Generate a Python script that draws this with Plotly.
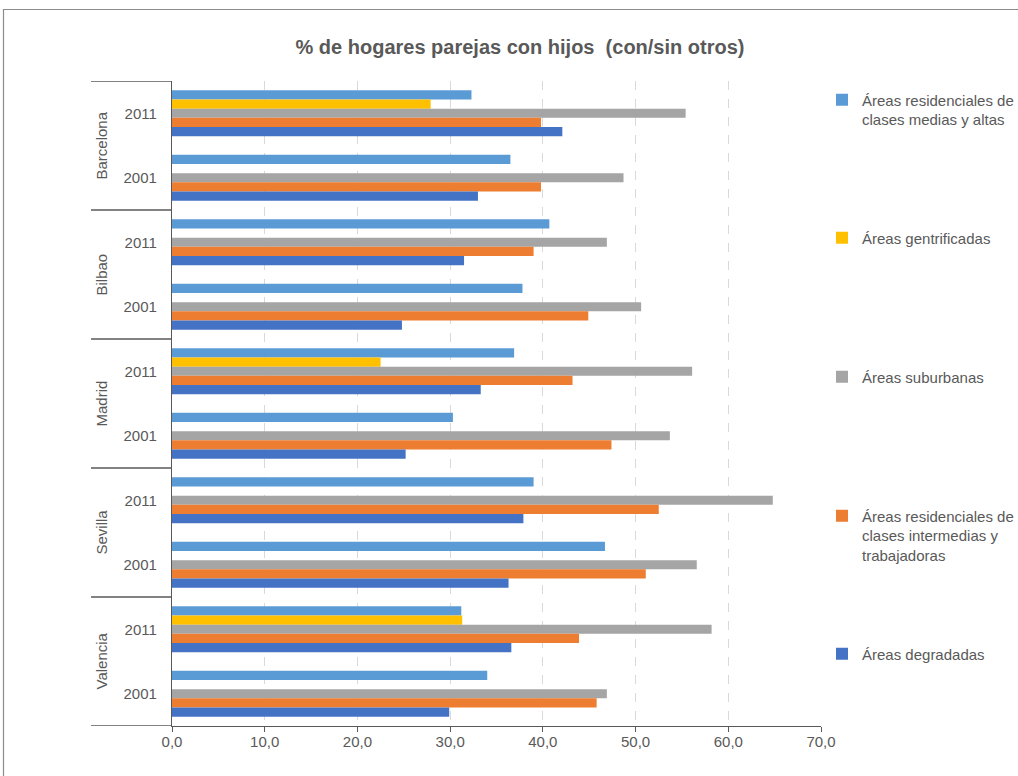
import plotly.graph_objects as go

# --- data -------------------------------------------------------------
cities = ["Barcelona", "Bilbao", "Madrid", "Sevilla", "Valencia"]
years = ["2011", "2001"]

series_names = [
    "Áreas residenciales de<br>clases medias y altas",
    "Áreas gentrificadas",
    "Áreas suburbanas",
    "Áreas residenciales de<br>clases intermedias y<br>trabajadoras",
    "Áreas degradadas",
]
series_colors = ["#5B9BD5", "#FFC000", "#A5A5A5", "#ED7D31", "#4472C4"]

# values per row: Barcelona 2011, Barcelona 2001, Bilbao 2011, ... Valencia 2001
medias_altas = [32.3, 36.5, 40.7, 37.8, 36.9, 30.3, 39.0, 46.7, 31.2, 34.0]
gentrificadas = [27.9, None, None, None, 22.5, None, None, None, 31.3, None]
suburbanas = [55.4, 48.7, 46.9, 50.6, 56.1, 53.7, 64.8, 56.6, 58.2, 46.9]
intermedias = [39.8, 39.8, 39.0, 44.9, 43.2, 47.4, 52.5, 51.1, 43.9, 45.8]
degradadas = [42.1, 33.0, 31.5, 24.8, 33.3, 25.2, 37.9, 36.3, 36.6, 29.9]

x_ticks = [0, 10, 20, 30, 40, 50, 60, 70]

# --- layout geometry ----------------------------------------------------
W, H = 1018, 776
M_L, M_R, M_T, M_B = 172, 197, 81, 50
PW, PH = W - M_L - M_R, H - M_T - M_B

TEXT = "#595959"
LINE = "#595959"
FONT = "Liberation Sans, Arial, sans-serif"


def px_x(px):
    """horizontal pixel -> paper fraction"""
    return (px - M_L) / PW


def px_y(py):
    """vertical pixel -> paper fraction"""
    return (H - M_B - py) / PH


rows = [(c, y) for c in cities for y in years]
row_pos = list(range(len(rows)))
row_labels = [y for _, y in rows]

all_series = [medias_altas, gentrificadas, suburbanas, intermedias, degradadas]

fig = go.Figure()
legend_ids = ["legend", "legend2", "legend3", "legend4", "legend5"]
for name, color, vals, lg in zip(series_names, series_colors, all_series, legend_ids):
    fig.add_trace(go.Bar(
        x=vals, y=row_pos, orientation="h", name=name,
        marker=dict(color=color, line=dict(width=0)),
        legend=lg, hoverinfo="x+name",
    ))

# --- category frame on the left (city separators and labels) ------------
shapes = []
n_per_city = len(years)
for i in range(len(cities) + 1):
    yb = i * n_per_city - 0.5
    shapes.append(dict(type="line", xref="paper", yref="y",
                       x0=px_x(91), x1=0, y0=yb, y1=yb,
                       line=dict(color=LINE, width=1.3)))

# outer chart border (top and left edges)
shapes.append(dict(type="line", xref="paper", yref="paper",
                   x0=px_x(3), x1=px_x(W + 5), y0=px_y(9.5), y1=px_y(9.5),
                   line=dict(color="#8C8C8C", width=1.2)))
shapes.append(dict(type="line", xref="paper", yref="paper",
                   x0=px_x(3.5), x1=px_x(3.5), y0=px_y(9), y1=px_y(H + 5),
                   line=dict(color="#8C8C8C", width=1.2)))

annotations = []
for ci, city in enumerate(cities):
    annotations.append(dict(
        text=city, xref="paper", yref="y",
        x=px_x(101), y=ci * n_per_city + (n_per_city - 1) / 2,
        textangle=-90, showarrow=False,
        font=dict(family=FONT, size=15, color=TEXT),
        xanchor="center", yanchor="middle",
    ))

fig.update_layout(
    width=W, height=H,
    margin=dict(l=M_L, r=M_R, t=M_T, b=M_B, pad=0, autoexpand=False),
    paper_bgcolor="white", plot_bgcolor="white",
    barmode="group", bargap=0.285, bargroupgap=0,
    title=dict(
        text="% de hogares parejas con hijos \u00a0(con/sin otros)",
        x=520 / W, xanchor="center", xref="container",
        y=1 - 47 / H, yanchor="middle", yref="container",
        font=dict(family=FONT, size=20, color=TEXT, weight="bold"),
    ),
    font=dict(family=FONT, color=TEXT),
    xaxis=dict(
        range=[0, 70], tickvals=x_ticks,
        ticktext=[f"{v:.1f}".replace(".", ",") for v in x_ticks],
        showgrid=True, gridcolor="#D9D9D9", griddash="dash", gridwidth=1,
        zeroline=False, showline=True, linecolor=LINE, linewidth=1.3,
        ticks="outside", ticklen=5, tickcolor=LINE, tickwidth=1.3,
        ticklabelstandoff=-3,
        tickfont=dict(family=FONT, size=15, color=TEXT),
        fixedrange=True,
    ),
    yaxis=dict(
        range=[len(rows) - 0.5, -0.5],
        tickvals=row_pos, ticktext=row_labels,
        showgrid=False, zeroline=False,
        showline=True, linecolor=LINE, linewidth=1.3,
        ticks="", ticklabelstandoff=11,
        tickfont=dict(family=FONT, size=15, color=TEXT),
        fixedrange=True,
    ),
    shapes=shapes,
    annotations=annotations,
    showlegend=True,
)

# one legend box per series, spread down the right-hand side
legend_tops = [83.5, 221.5, 360.5, 499.5, 637.5]
for lg, top in zip(legend_ids, legend_tops):
    fig.update_layout({lg: dict(
        xref="container", yref="container",
        x=822 / W, xanchor="left",
        y=1 - top / H, yanchor="top",
        bgcolor="rgba(0,0,0,0)", borderwidth=0,
        font=dict(family=FONT, size=15, color=TEXT),
        valign="top", itemclick=False, itemdoubleclick=False,
    )})

fig.write_html("out.html")
